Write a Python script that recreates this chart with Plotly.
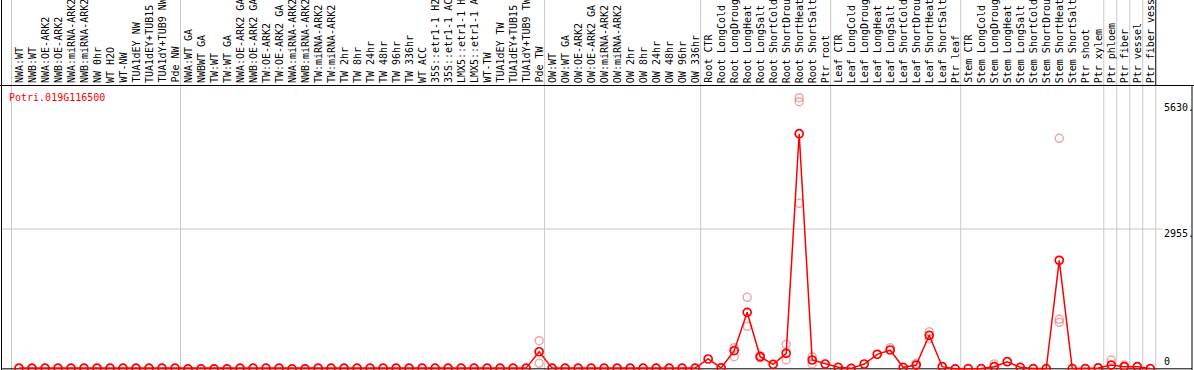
import plotly.graph_objects as go

W, H = 1194, 370

# ---------------- data ----------------
cats_nw = ["NWA:WT", "NWB:WT", "NWA:OE-ARK2", "NWB:OE-ARK2", "NWA:miRNA-ARK2", "NWB:miRNA-ARK2",
           "NW 0hr", "WT H2O", "WT-NW", "TUA1dEY NW", "TUA1dEY+TUB15", "TUA1dY+TUB9 NW", "Pde NW"]
cats_tw = ["NWA:WT GA", "NWBWT GA", "TW:WT", "TW:WT GA", "NWA:OE-ARK2 GA", "NWB:OE-ARK2 GA",
           "TW:OE-ARK2", "TW:OE-ARK2 GA", "NWA:miRNA-ARK2", "NWB:miRNA-ARK2", "TW:miRNA-ARK2",
           "TW:miRNA-ARK2", "TW 2hr", "TW 8hr", "TW 24hr", "TW 48hr", "TW 96hr", "TW 336hr",
           "WT ACC", "35S::etr1-1 H2O", "35S::etr1-1 ACC", "LMX5::etr1-1 H2O", "LMX5::etr1-1 ACC",
           "WT-TW", "TUA1dEY TW", "TUA1dEY+TUB15", "TUA1dY+TUB9 TW", "Pde TW"]
cats_ow = ["OW:WT", "OW:WT GA", "OW:OE-ARK2", "OW:OE-ARK2 GA", "OW:miRNA-ARK2", "OW:miRNA-ARK2",
           "OW 2hr", "OW 8hr", "OW 24hr", "OW 48hr", "OW 96hr", "OW 336hr"]
cats_root = ["Root CTR", "Root LongCold", "Root LongDrought", "Root LongHeat", "Root LongSalt",
             "Root ShortCold", "Root ShortDrought", "Root ShortHeat", "Root ShortSalt", "Ptr root"]
cats_leaf = ["Leaf CTR", "Leaf LongCold", "Leaf LongDrought", "Leaf LongHeat", "Leaf LongSalt",
             "Leaf ShortCold", "Leaf ShortDrought", "Leaf ShortHeat", "Leaf ShortSalt", "Ptr leaf"]
cats_stem = ["Stem CTR", "Stem LongCold", "Stem LongDrought", "Stem LongHeat", "Stem LongSalt",
             "Stem ShortCold", "Stem ShortDrought", "Stem ShortHeat", "Stem ShortSalt",
             "Ptr shoot", "Ptr xylem"]
cats_tissue = ["Ptr phloem", "Ptr fiber", "Ptr vessel", "Ptr fiber vessel"]

mean_nw = [25, 25, 25, 25, 25, 25, 25, 25, 25, 25, 25, 25, 25]
mean_tw = [10, 10, 10, 10, 25, 25, 25, 25, 10, 10, 25, 25, 25, 25, 25, 25, 25, 25,
           25, 25, 25, 25, 25, 25, 25, 25, 25, 370]
mean_ow = [25, 25, 25, 25, 25, 25, 25, 25, 25, 25, 25, 25]
mean_root = [217, 30, 392, 1200, 265, 105, 337, 4962, 196, 112]
mean_leaf = [42, 20, 112, 316, 406, 42, 90, 716, 55, 10]
mean_stem = [15, 15, 55, 160, 42, 15, 15, 2296, 15, 15, 30]
mean_tissue = [90, 55, 55, 15]

# individual replicate values that differ visibly from the mean (category label, value)
rep_cat = ["Pde TW", "Pde TW",
           "Root LongDrought", "Root LongDrought", "Root LongHeat", "Root LongHeat",
           "Root LongSalt", "Root LongSalt", "Root ShortDrought", "Root ShortDrought",
           "Root ShortHeat", "Root ShortHeat", "Root ShortHeat", "Root ShortSalt", "Root ShortSalt",
           "Leaf LongSalt", "Leaf ShortDrought", "Leaf ShortHeat", "Leaf ShortHeat",
           "Stem LongDrought", "Stem ShortHeat", "Stem ShortHeat", "Stem ShortHeat",
           "Ptr phloem", "Ptr fiber"]
rep_val = [602, 126,
           455, 265, 1516, 906,
           290, 240, 527, 196,
           5720, 5636, 3496, 265, 112,
           455, 126, 792, 644,
           112, 4865, 1053, 990,
           196, 90]

y_tick_vals = [5630, 2955, 0]
y_tick_text = ["5630.", "2955.", "0"]
title_text = "Potri.019G116500"

# ---------------- build ----------------
groups = [cats_nw, cats_tw, cats_ow, cats_root, cats_leaf, cats_stem]
categories = cats_nw + cats_tw + cats_ow + cats_root + cats_leaf + cats_stem + cats_tissue
means = mean_nw + mean_tw + mean_ow + mean_root + mean_leaf + mean_stem + mean_tissue
xidx = list(range(len(categories)))
last_index = {c: i for i, c in enumerate(categories)}
rep_x = [last_index[c] for c in rep_cat]

# pixel geometry
X0PX, STEP = 19.0, 13.003          # centre of first category, spacing
PLOT_L, PLOT_R = 2.0, 1162.0
PLOT_T, PLOT_B = 86.0, 370.0
ZERO_PX, MID_PX = 369.3, 229.0      # y pixel for 0 and for 2955
scale = (ZERO_PX - MID_PX) / 2955.0
y_lo = -(PLOT_B - ZERO_PX) / scale
y_hi = (ZERO_PX - PLOT_T) / scale
x_lo = (PLOT_L - X0PX) / STEP
x_hi = (PLOT_R - X0PX) / STEP


def xp(px):
    return px / W


def yp(py):
    return 1 - py / H


fig = go.Figure()
fig.add_trace(go.Scatter(
    x=rep_x, y=rep_val, mode="markers",
    marker=dict(symbol="circle-open", size=8, color="rgba(228,110,110,0.6)",
                line=dict(width=1.5)),
    hoverinfo="skip"))
fig.add_trace(go.Scatter(
    x=xidx, y=means, mode="lines+markers",
    line=dict(color="#ff0000", width=1.5),
    marker=dict(symbol="circle-open", size=8, color="#ff0000", line=dict(width=1.7)),
    text=categories))

shapes = []
GRAY = "#c8c8c8"
# group separators
bounds = [0]
acc = 0
for g in groups:
    acc += len(g)
    bounds.append(acc)
for j in range(len(cats_tissue) - 1):
    bounds.append(acc + j + 1)
for k in bounds:
    bx = X0PX + STEP * k - 7.5
    shapes.append(dict(type="line", xref="paper", yref="paper", x0=xp(bx), x1=xp(bx),
                       y0=0, y1=1, line=dict(color=GRAY, width=1)))
# last boundary: black in header, gray in plot
bx = X0PX + STEP * len(categories) - 7.5
shapes.append(dict(type="line", xref="paper", yref="paper", x0=xp(bx), x1=xp(bx),
                   y0=yp(85.5), y1=yp(0), line=dict(color="black", width=1)))
shapes.append(dict(type="line", xref="paper", yref="paper", x0=xp(bx), x1=xp(bx),
                   y0=0, y1=yp(85.5), line=dict(color=GRAY, width=1)))
# horizontal mid gridline
shapes.append(dict(type="line", xref="paper", yref="paper", x0=xp(2), x1=xp(1163),
                   y0=yp(MID_PX), y1=yp(MID_PX), line=dict(color=GRAY, width=1)))
# frame lines
shapes.append(dict(type="line", xref="paper", yref="paper", x0=0, x1=1,
                   y0=yp(85.5), y1=yp(85.5), line=dict(color="black", width=1)))
shapes.append(dict(type="line", xref="paper", yref="paper", x0=xp(1.5), x1=xp(1.5),
                   y0=0, y1=1, line=dict(color="black", width=1)))
shapes.append(dict(type="line", xref="paper", yref="paper", x0=xp(1192), x1=xp(1192),
                   y0=0, y1=yp(85.5), line=dict(color="black", width=1)))
shapes.append(dict(type="line", xref="paper", yref="paper", x0=xp(1.5), x1=xp(1192),
                   y0=yp(368.8), y1=yp(368.8), line=dict(color="black", width=1)))
for s in shapes:
    s["layer"] = "below"

FONT = "DejaVu Sans Mono"
annotations = []
for i, lab in enumerate(categories):
    annotations.append(dict(x=i, xref="x", y=yp(84), yref="paper", text=lab,
                            textangle=-90, xanchor="center", yanchor="bottom",
                            showarrow=False, borderpad=0,
                            font=dict(family=FONT, size=10, color="black")))
label_py = {5630: 107.7, 2955: 233.3, 0: 361.7}
for v, t in zip(y_tick_vals, y_tick_text):
    annotations.append(dict(x=xp(1163), xref="paper", y=yp(label_py[v]), yref="paper",
                            text=t, xanchor="left", yanchor="middle", showarrow=False,
                            borderpad=0, font=dict(family=FONT, size=10, color="black")))
annotations.append(dict(x=xp(8), xref="paper", y=yp(97), yref="paper", text=title_text,
                        xanchor="left", yanchor="middle", showarrow=False, borderpad=0,
                        font=dict(family=FONT, size=10, color="#ff0000")))

fig.update_layout(
    width=W, height=H, autosize=False,
    margin=dict(l=0, r=0, t=0, b=0, pad=0),
    paper_bgcolor="white", plot_bgcolor="rgba(0,0,0,0)",
    showlegend=False,
    xaxis=dict(domain=[xp(PLOT_L), xp(PLOT_R)], range=[x_lo, x_hi], visible=False,
               fixedrange=True),
    yaxis=dict(domain=[yp(PLOT_B), yp(PLOT_T)], range=[y_lo, y_hi], visible=False,
               fixedrange=True),
    shapes=shapes, annotations=annotations,
)

fig.write_html(
    "out.html",
    config={"displayModeBar": False},
    post_script="document.body.style.margin='0';document.body.style.overflow='hidden';",
)
